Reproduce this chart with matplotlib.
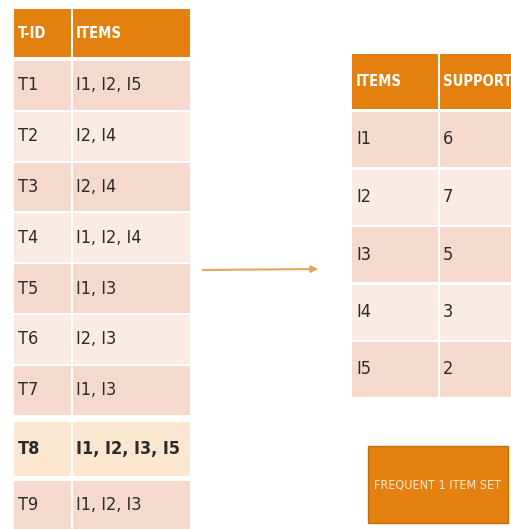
import matplotlib.pyplot as plt
from matplotlib.patches import Rectangle

# transactions
tids = ["T1", "T2", "T3", "T4", "T5", "T6", "T7", "T8", "T9"]
tx_items = ["I1, I2, I5", "I2, I4", "I2, I4", "I1, I2, I4", "I1, I3",
            "I2, I3", "I1, I3", "I1, I2, I3, I5", "I1, I2, I3"]
highlight = "T8"

# frequent 1-itemsets
items = ["I1", "I2", "I3", "I4", "I5"]
support = [6, 7, 5, 3, 2]

ORANGE = "#E4800F"
DARK = "#F5D9CC"
LIGHT = "#FAEBE6"
HILITE = "#FBE6CF"
TXT = "#2B2B2B"
FONT = dict(family="DejaVu Sans", fontstretch="condensed")

fig = plt.figure(figsize=(5.11, 5.29), dpi=100)
ax = fig.add_axes([0, 0, 1, 1])
ax.set_xlim(0, 511)
ax.set_ylim(529, 0)
ax.axis("off")


def cell_row(x0, xdiv, x1, y0, y1, color, texts, tcolor=TXT, weight="normal", size=13):
    ax.add_patch(Rectangle((x0, y0), xdiv - x0, y1 - y0, fc=color, ec="none"))
    ax.add_patch(Rectangle((xdiv + 1.5, y0), x1 - xdiv - 1.5, y1 - y0, fc=color, ec="none"))
    ym = (y0 + y1) / 2
    ax.text(x0 + 4, ym, texts[0], ha="left", va="center", color=tcolor,
            fontsize=size, fontweight=weight, **FONT)
    ax.text(xdiv + 5, ym, texts[1], ha="left", va="center", color=tcolor,
            fontsize=size, fontweight=weight, **FONT)


# left table
lx0, ldiv, lx1 = 14, 71, 190
cell_row(lx0, ldiv, lx1, 9, 57, ORANGE, ["T-ID", "ITEMS"], tcolor="white", weight="bold", size=10.5)
y = 61
pitch = 50.8
for i, (t, it) in enumerate(zip(tids, tx_items)):
    if t == highlight:
        y += 5
        cell_row(lx0, ldiv, lx1, y, y + 54, HILITE, [t, it], weight="bold")
        y += 59
    else:
        col = DARK if i % 2 == 0 else LIGHT
        cell_row(lx0, ldiv, lx1, y, y + pitch - 2, col, [t, it])
        y += pitch

# right table
rx0, rdiv, rx1 = 352, 438, 511
cell_row(rx0, rdiv, rx1, 54, 109, ORANGE, ["ITEMS", "SUPPORT"], tcolor="white", weight="bold", size=10.5)
y = 112
for i, (it, s) in enumerate(zip(items, support)):
    col = DARK if i % 2 == 0 else LIGHT
    cell_row(rx0, rdiv, rx1, y, y + 55, col, [it, str(s)])
    y += 57.5

# arrow
ax.annotate("", xy=(321, 269), xytext=(200, 270),
            arrowprops=dict(arrowstyle="-|>", color="#EDA35A", lw=1.5, mutation_scale=10))

# label box
ax.add_patch(Rectangle((368, 446), 140, 77, fc=ORANGE, ec="#C86E0C", lw=1))
ax.text(438, 484.5, "FREQUENT 1 ITEM SET", ha="center", va="center", color="#FBE9D6",
        fontsize=9, **FONT)

fig.savefig("out.png", dpi=100)
